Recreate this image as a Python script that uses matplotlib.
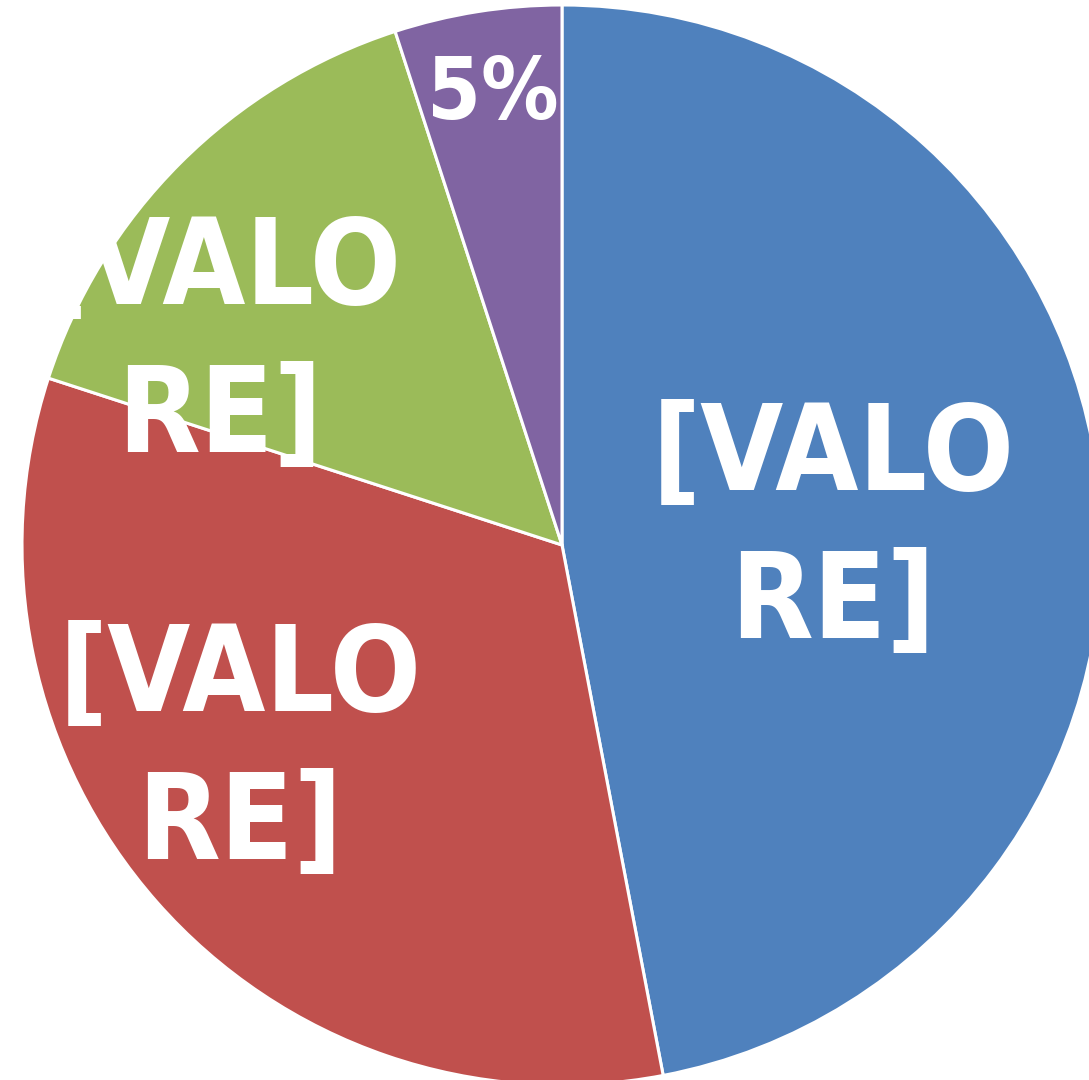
import matplotlib.pyplot as plt

# valori delle fette (in senso orario dall'alto)
shares = [47, 33, 15, 5]
labels = ["[VALO\nRE]", "[VALO\nRE]", "[VALO\nRE]", "5%"]
colors = ["#4F81BD", "#C0504D", "#9BBB59", "#8064A2"]

# posizioni delle etichette (coordinate del grafico, raggio = 1)
label_xy = [(0.502, 0.026), (-0.596, -0.383), (-0.633, 0.37), (-0.128, 0.832)]
label_size = [86, 86, 86, 62]

fig = plt.figure(figsize=(10.89, 10.80), dpi=100)
ax = fig.add_axes([0, 0, 1, 1])

wedges, texts = ax.pie(shares,
                       colors=colors,
                       labels=labels,
                       startangle=90,
                       counterclock=False,
                       radius=1.0,
                       wedgeprops=dict(edgecolor="white", linewidth=2.2))

for t, xy, fs in zip(texts, label_xy, label_size):
    t.set_position(xy)
    t.set_ha("center")
    t.set_va("center")
    t.set_color("white")
    t.set_fontsize(fs)
    t.set_fontweight("bold")
    t.set_fontstretch("condensed")
    t.set_linespacing(1.35)
    t.set_multialignment("center")

# il grafico e' tagliato dai bordi dell'immagine
ax.set_xlim(-562 / 540, (1089 - 562) / 540)
ax.set_ylim(-(1080 - 545) / 540, 545 / 540)
ax.set_aspect("equal")
ax.axis("off")

fig.savefig("out.png", dpi=100)
